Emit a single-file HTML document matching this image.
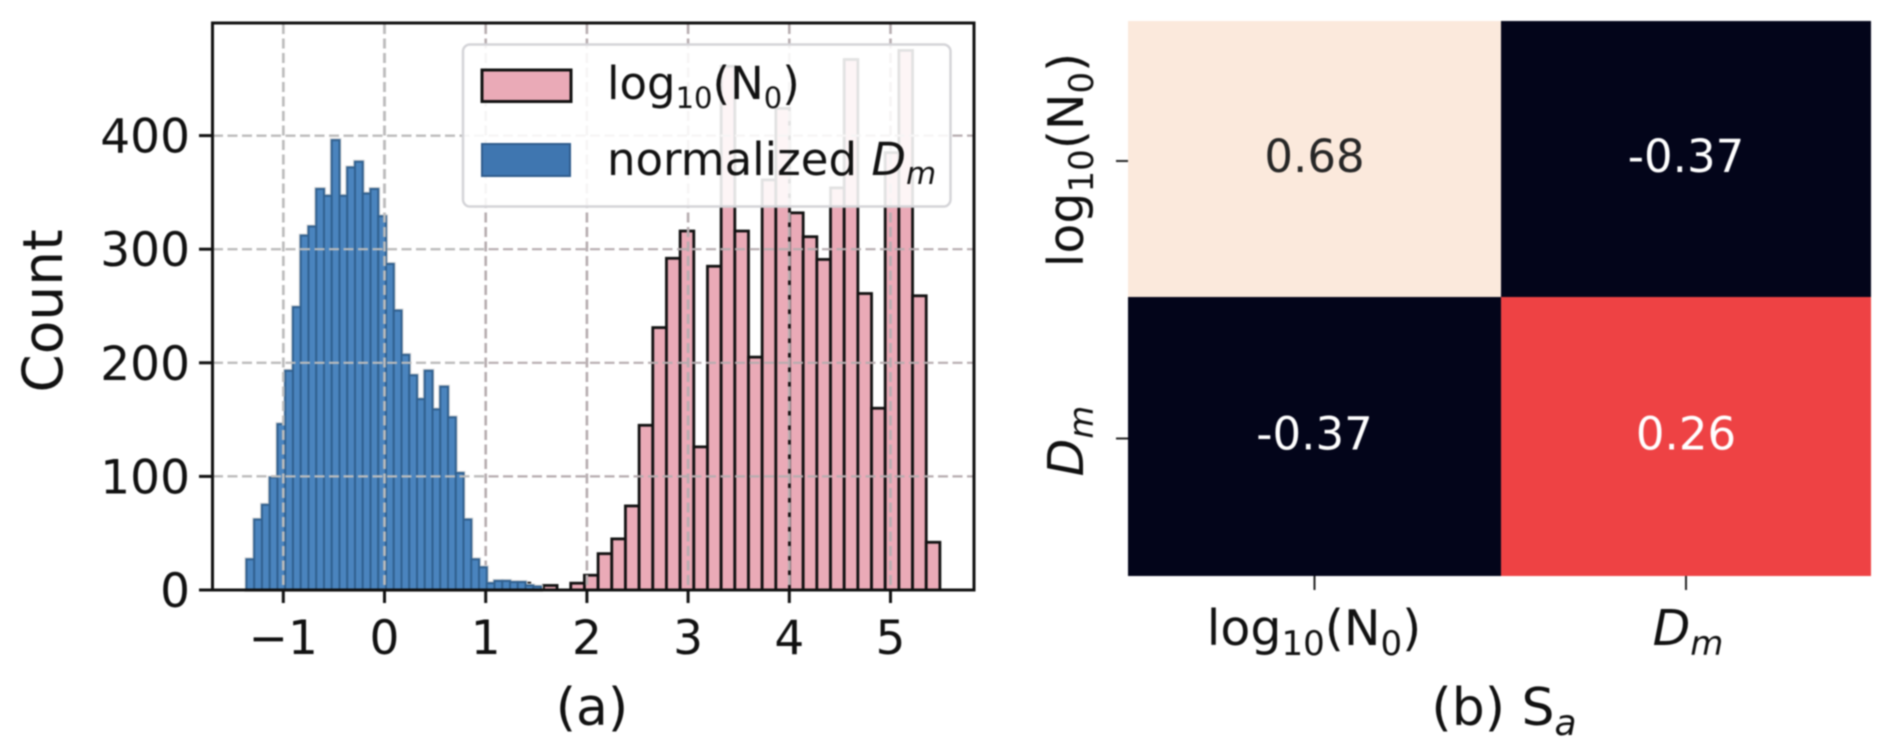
<!DOCTYPE html>
<html lang="en">
<head>
<meta charset="utf-8">
<title>Histogram and heatmap</title>
<style>
html,body{margin:0;padding:0;background:#fff;width:1892px;height:750px;overflow:hidden}
svg{display:block;filter:blur(0.8px)}
text{font-family:"DejaVu Sans","Liberation Sans",sans-serif;fill:#111}
.it{font-style:italic}
</style>
</head>
<body>
<svg id="figure" xmlns="http://www.w3.org/2000/svg" width="1892" height="750" viewBox="0 0 1892 750">
  <defs>
    <clipPath id="blue-region"><rect x="212" y="23" width="272" height="567"/></clipPath>
  </defs>
  <rect x="0" y="0" width="1892" height="750" fill="#fff"/>
  <g id="hist-panel"></g>
  <g id="heat-panel"></g>

  <rect x="212.5" y="23" width="761.5" height="567" fill="none" stroke="#111" stroke-width="3"/>

  <g>
    <rect x="463" y="44.5" width="487.5" height="162" rx="7" fill="#fff" fill-opacity="0.88" stroke="#d4d4d8" stroke-width="2.5"/>
    <rect x="482" y="70" width="89" height="31.5" fill="#eaaab7" stroke="#111" stroke-width="3"/>
    <rect x="482" y="144" width="88" height="32" fill="#3f76b0" stroke="#2e5b8c" stroke-width="2"/>
    <text x="607" y="99" font-size="45">log<tspan font-size="29" dy="9">10</tspan><tspan dy="-9">(N</tspan><tspan font-size="29" dy="9">0</tspan><tspan dy="-9">)</tspan></text>
    <text x="607" y="175" font-size="45">normalized <tspan class="it">D</tspan><tspan class="it" font-size="31" dy="9">m</tspan></text>
  </g>

  <text transform="translate(62,311) rotate(-90)" text-anchor="middle" font-size="55">Count</text>
  <text x="592" y="725" text-anchor="middle" font-size="52">(a)</text>

  <text transform="translate(1083,160) rotate(-90)" text-anchor="middle" font-size="49">log<tspan font-size="34" dy="10">10</tspan><tspan dy="-10">(N</tspan><tspan font-size="34" dy="10">0</tspan><tspan dy="-10">)</tspan></text>
  <text transform="translate(1083,441) rotate(-90)" text-anchor="middle" font-size="49"><tspan class="it">D</tspan><tspan class="it" font-size="34" dy="10">m</tspan></text>
  <text x="1314" y="645" text-anchor="middle" font-size="49">log<tspan font-size="34" dy="10">10</tspan><tspan dy="-10">(N</tspan><tspan font-size="34" dy="10">0</tspan><tspan dy="-10">)</tspan></text>
  <text x="1688" y="645" text-anchor="middle" font-size="49"><tspan class="it">D</tspan><tspan class="it" font-size="34" dy="10">m</tspan></text>
  <text x="1504" y="725" text-anchor="middle" font-size="52">(b) S<tspan class="it" font-size="36" dy="10">a</tspan></text>
</svg>

<script>
// Histogram data
const blueStart = -1.364;
const blueBinWidth = 0.0766;
const blueCounts = [27, 62, 75, 99, 146, 193, 249, 312, 320, 353, 347, 396, 347, 372, 377, 349, 353, 329, 287, 246, 207, 189, 168, 193, 159, 179, 152, 103, 62, 27, 20, 6, 8, 8, 7, 7, 4, 3];
const pinkStart = 1.30;
const pinkBinWidth = 0.1351;
const pinkCounts = [6, 2, 4, 0, 6, 13, 32, 45, 74, 145, 231, 292, 316, 126, 285, 461, 316, 205, 361, 424, 332, 311, 291, 354, 467, 261, 160, 385, 475, 259, 42];
const xTickValues = [-1, 0, 1, 2, 3, 4, 5];
const yTickValues = [0, 100, 200, 300, 400];

// Heatmap data
const heatValues = [[0.68, -0.37], [-0.37, 0.26]];
const heatLabels = [["0.68", "-0.37"], ["-0.37", "0.26"]];

const NS = "http://www.w3.org/2000/svg";
const hist = document.getElementById("hist-panel");
const heat = document.getElementById("heat-panel");

function xAxis(v) { return 384.5 + 101.2 * v; }
function yAxis(c) { return 590 - 1.136 * c; }

function make(tag, parent) {
  const el = document.createElementNS(NS, tag);
  parent.appendChild(el);
  return el;
}

function drawRect(el, x, y, w, h, fill, stroke, sw) {
  el.setAttribute("x", x);
  el.setAttribute("y", y);
  el.setAttribute("width", w);
  el.setAttribute("height", h);
  el.setAttribute("fill", fill);
  el.setAttribute("stroke", stroke);
  el.setAttribute("stroke-width", sw);
}

function drawLine(el, x1, y1, x2, y2, stroke, sw, dash) {
  el.setAttribute("x1", x1);
  el.setAttribute("y1", y1);
  el.setAttribute("x2", x2);
  el.setAttribute("y2", y2);
  el.setAttribute("stroke", stroke);
  el.setAttribute("stroke-width", sw);
  if (dash) el.setAttribute("stroke-dasharray", dash);
}

function drawGrid(color, parent) {
  xTickValues.forEach(function (v) {
    const g = make("line", parent);
    
    
    drawLine(g, xAxis(v), 24, xAxis(v), 589, color, 2.6, "10 4.5");
  });
  yTickValues.forEach(function (v) {
    if (v === 0) return;
    const g = make("line", parent);
    
    
    drawLine(g, 213, yAxis(v), 973, yAxis(v), color, 2.2, "10 4.5");
  });
}

// Pink bars
pinkCounts.forEach(function (c, i) {
  if (c <= 0) return;
  const x0 = xAxis(pinkStart + i * pinkBinWidth);
  const x1 = xAxis(pinkStart + (i + 1) * pinkBinWidth);
  const r = make("rect", hist);
  
  
  drawRect(r, x0, yAxis(c), x1 - x0, yAxis(0) - yAxis(c), "#eaaab7", "#111", 2.8);
});

// Grid over the pink bars and the empty plot area
drawGrid("#b6acaf", hist);

// Blue bar halo
blueCounts.forEach(function (c, i) {
  const x0 = xAxis(blueStart + i * blueBinWidth);
  const x1 = xAxis(blueStart + (i + 1) * blueBinWidth);
  const r = make("rect", hist);
  
  
  drawRect(r, x0, yAxis(c), x1 - x0, yAxis(0) - yAxis(c), "none", "#d6d6d6", 4);
});

// Blue bars
blueCounts.forEach(function (c, i) {
  const x0 = xAxis(blueStart + i * blueBinWidth);
  const x1 = xAxis(blueStart + (i + 1) * blueBinWidth);
  const r = make("rect", hist);
  
  
  drawRect(r, x0, yAxis(c), x1 - x0, yAxis(0) - yAxis(c), "#4a84be", "#30608f", 2);
});

// Grid over the blue bars
const blueGrid = make("g", hist);


blueGrid.setAttribute("clip-path", "url(#blue-region)");
drawGrid("#bcbcbc", blueGrid);

// Ticks and tick labels
xTickValues.forEach(function (v) {
  const t = make("line", hist);
  
  
  drawLine(t, xAxis(v), 590, xAxis(v), 603, "#111", 3);
  const l = make("text", hist);
  
  
  l.setAttribute("x", xAxis(v));
  l.setAttribute("y", 654);
  l.setAttribute("text-anchor", "middle");
  l.setAttribute("font-size", "47");
  l.textContent = String(v).replace("-", "\u2212");
});

yTickValues.forEach(function (v) {
  const t = make("line", hist);
  
  
  drawLine(t, 199, yAxis(v), 212, yAxis(v), "#111", 3);
  const l = make("text", hist);
  
  
  l.setAttribute("x", 190);
  l.setAttribute("y", yAxis(v) + 17);
  l.setAttribute("text-anchor", "end");
  l.setAttribute("font-size", "47");
  l.textContent = String(v);
});

// Heatmap
const heatX = [1128, 1501, 1871];
const heatY = [21, 297, 576];
function heatColor(v) {
  if (v <= 0.26) {
    const t = (v + 0.37) / 0.63;
    return "rgb(" + Math.round(3 + t * 235) + "," + Math.round(5 + t * 61) + "," + Math.round(26 + t * 42) + ")";
  }
  const t = (v - 0.26) / 0.42;
  return "rgb(" + Math.round(238 + t * 13) + "," + Math.round(66 + t * 167) + "," + Math.round(68 + t * 152) + ")";
}

heatValues.forEach(function (row, r) {
  row.forEach(function (v, c) {
    const cell = make("rect", heat);
    
    
    drawRect(cell, heatX[c], heatY[r], heatX[c + 1] - heatX[c], heatY[r + 1] - heatY[r], heatColor(v), "none", 0);
    const label = make("text", heat);
    
    
    label.setAttribute("x", (heatX[c] + heatX[c + 1]) / 2);
    label.setAttribute("y", (heatY[r] + heatY[r + 1]) / 2 + 13);
    label.setAttribute("text-anchor", "middle");
    label.setAttribute("font-size", "45");
    label.style.fill = v > 0.5 ? "#262626" : "#ffffff";
    label.textContent = heatLabels[r][c];
  });
});

[0, 1].forEach(function (i) {
  const ty = make("line", heat);
  
  
  const yMid = (heatY[i] + heatY[i + 1]) / 2 + 2;
  drawLine(ty, 1116, yMid, 1128, yMid, "#222", 2);
  const tx = make("line", heat);
  
  
  const xMid = (heatX[i] + heatX[i + 1]) / 2;
  drawLine(tx, xMid, 576, xMid, 590, "#222", 2);
});
</script>
</body>
</html>
